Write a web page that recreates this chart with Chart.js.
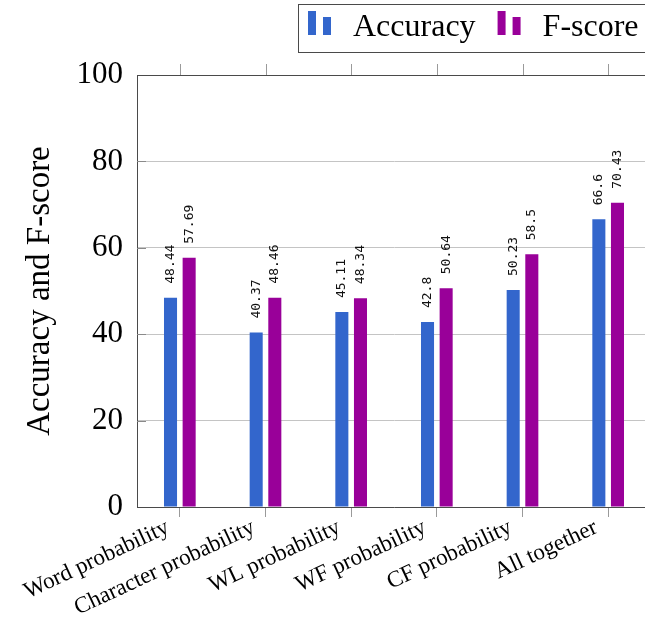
<!DOCTYPE html>
<html>
<head>
<meta charset="utf-8">
<script src="https://cdn.jsdelivr.net/npm/chart.js@4/dist/chart.umd.min.js"></script>
<style>
  html, body { margin: 0; padding: 0; background: #fff; overflow: hidden; }
  #wrap { width: 660px; height: 619px; }
</style>
</head>
<body>
<div id="wrap"><canvas id="c" width="660" height="619"></canvas></div>
<script>
// Feature sets compared
const categories = ['Word probability', 'Character probability', 'WL probability',
                    'WF probability', 'CF probability', 'All together'];
// Scores per feature set (%)
const accuracy = [48.44, 40.37, 45.11, 42.8, 50.23, 66.6];
const fscore   = [57.69, 48.46, 48.34, 50.64, 58.5, 70.43];
const yTicks   = [0, 20, 40, 60, 80, 100];

const SERIF = '"Liberation Serif", "Times New Roman", serif';
const AXIS_DARK = '#4a4a4a';
const TICK_GRAY = '#9a9a9a';

// Rotated value labels above each bar
const valueLabels = {
  id: 'valueLabels',
  afterDatasetsDraw(chart) {
    const ctx = chart.ctx;
    ctx.save();
    ctx.fillStyle = '#111';
    ctx.font = '13px "DejaVu Sans Mono", monospace';
    ctx.textAlign = 'left';
    ctx.textBaseline = 'middle';
    chart.data.datasets.forEach((ds, di) => {
      const meta = chart.getDatasetMeta(di);
      meta.data.forEach((bar, i) => {
        ctx.save();
        ctx.translate(bar.x, bar.y - 14);
        ctx.rotate(-Math.PI / 2);
        ctx.fillText(String(ds.data[i]), 0, 0);
        ctx.restore();
      });
    });
    ctx.restore();
  }
};

// Top frame line, outward x ticks on top, inward y ticks, boxed legend
const frameAndLegend = {
  id: 'frameAndLegend',
  afterDraw(chart) {
    const ctx = chart.ctx;
    const a = chart.chartArea;
    const xs = chart.scales.x, ys = chart.scales.y;
    ctx.save();
    // inner y ticks
    ctx.strokeStyle = '#8a8a8a';
    ctx.lineWidth = 1;
    ys.ticks.forEach(t => {
      if (t.value === 0 || t.value === 100) return;
      const y = Math.round(ys.getPixelForValue(t.value)) + 0.5;
      ctx.beginPath();
      ctx.moveTo(a.left, y);
      ctx.lineTo(a.left + 9, y);
      ctx.stroke();
    });
    // outward x ticks along the top edge
    ctx.strokeStyle = TICK_GRAY;
    xs.ticks.forEach((t, i) => {
      const x = Math.round(xs.getPixelForTick(i)) + 0.5;
      ctx.beginPath();
      ctx.moveTo(x, a.top - 11);
      ctx.lineTo(x, a.top);
      ctx.stroke();
    });
    // top frame line
    ctx.strokeStyle = AXIS_DARK;
    ctx.beginPath();
    const ty = Math.round(a.top) + 0.5;
    ctx.moveTo(a.left, ty);
    ctx.lineTo(a.right, ty);
    ctx.stroke();

    // legend
    const boxL = 298.5, boxT = 4.5, boxB = 52.5;
    ctx.fillStyle = '#fff';
    ctx.fillRect(boxL, boxT, a.right - boxL, boxB - boxT);
    ctx.strokeStyle = AXIS_DARK;
    ctx.strokeRect(boxL, boxT, a.right - boxL, boxB - boxT);
    ctx.font = '32px ' + SERIF;
    ctx.textAlign = 'left';
    ctx.textBaseline = 'alphabetic';
    let x = 308;
    chart.data.datasets.forEach(ds => {
      ctx.fillStyle = ds.backgroundColor;
      ctx.fillRect(x, 11, 8, 24);
      ctx.fillRect(x + 15, 17, 8, 18);
      ctx.fillStyle = '#000';
      const tx = x + 45;
      ctx.fillText(ds.label, tx, 36);
      x = tx + ctx.measureText(ds.label).width + 22;
    });
    ctx.restore();
  }
};

new Chart(document.getElementById('c'), {
  type: 'bar',
  data: {
    labels: categories,
    datasets: [
      { label: 'Accuracy', data: accuracy, backgroundColor: 'rgb(51,102,204)',
        borderWidth: 0, categoryPercentage: 0.435, barPercentage: 0.70 },
      { label: 'F-score', data: fscore, backgroundColor: 'rgb(153,0,153)',
        borderWidth: 0, categoryPercentage: 0.435, barPercentage: 0.70 }
    ]
  },
  options: {
    responsive: false,
    animation: false,
    devicePixelRatio: 1,
    layout: { padding: { top: 75, right: 9, left: 0, bottom: 0 } },
    plugins: {
      legend: { display: false },
      tooltip: { enabled: false }
    },
    scales: {
      x: {
        offset: true,
        grid: { display: true, drawOnChartArea: false, drawTicks: true,
                tickLength: 10, offset: false, color: TICK_GRAY },
        border: { display: true, color: AXIS_DARK, width: 1 },
        ticks: { autoSkip: false, minRotation: 25, maxRotation: 25, padding: -3,
                 labelOffset: -12,
                 color: '#000', font: { family: SERIF, size: 23 } },
        afterFit(scale) { scale.height = 112; }
      },
      y: {
        min: 0, max: 100,
        afterBuildTicks(scale) { scale.ticks = yTicks.map(v => ({ value: v })); },
        grid: { color: '#c4c4c4', drawTicks: false },
        border: { display: true, color: AXIS_DARK, width: 1 },
        ticks: { padding: 14, color: '#000', font: { family: SERIF, size: 31 } },
        title: { display: true, text: 'Accuracy and F-score', color: '#000',
                 font: { family: SERIF, size: 33 }, padding: { top: 21, bottom: 0 } },
        afterFit(scale) { scale.width = 137; }
      }
    }
  },
  plugins: [valueLabels, frameAndLegend]
});
</script>
</body>
</html>
